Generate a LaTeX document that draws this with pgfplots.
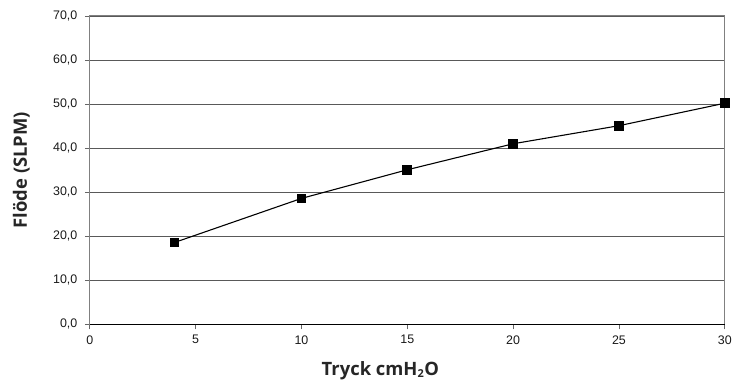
\documentclass[border=0pt]{standalone}
\usepackage{pgfplots}
\pgfplotsset{compat=1.18}
\usepackage{fontspec}
\setmainfont{Liberation Sans}
\newfontfamily\labelfont{Open Sans}
\begin{document}
\begin{tikzpicture}
\begin{axis}[
  scale only axis, width=636bp, height=309bp,
  xmin=0, xmax=30, ymin=0, ymax=70,
  xtick={0,5,...,30}, ytick={0,10,...,70},
  xtick pos=lower, ytick pos=left,
  tick align=outside, major tick length=5bp,
  /pgf/number format/assume math mode=true,
  yticklabel={\pgfmathprintnumber[fixed,fixed zerofill,precision=1,use comma]{\tick}},
  ticklabel style={font=\fontsize{12.5}{14}\selectfont, text=black!90},
  yticklabel style={xshift=-4bp},
  xticklabel style={yshift=-2.5bp},
  axis line style={draw=black!50, line width=1pt},
  tick style={draw=black!60, line width=0.9pt},
  ymajorgrids, grid style={draw=black!65, line width=0.9pt},
  xlabel={Tryck cmH\textsubscript{\fontsize{11}{11}\selectfont 2}O},
  ylabel={Flöde (SLPM)},
  label style={font=\labelfont\bfseries\fontsize{18.5}{22}\selectfont, text=black!85},
  xlabel style={at={(axis description cs:0.4575,-0.165)}, anchor=base},
  ylabel style={at={(axis description cs:-0.099,0.5)}, anchor=base},
]
\draw[black, line width=1pt] (axis cs:0,0) -- (axis cs:30,0);
\addplot[black, line width=1.1pt, mark=square*, mark size=4.3bp, mark options={solid}]
  coordinates {(4,18.6) (10,28.6) (15,35.1) (20,41.0) (25,45.1) (30,50.2)};
\end{axis}
\path ([xshift=-90bp,yshift=-56bp]current axis.south west) rectangle ([xshift=9bp,yshift=16bp]current axis.north east);
\end{tikzpicture}
\end{document}
